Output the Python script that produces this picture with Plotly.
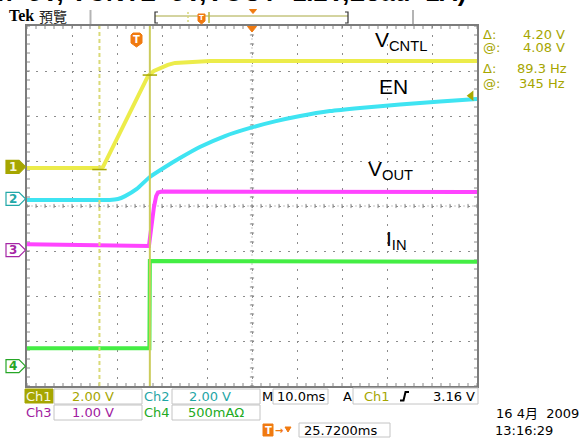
import plotly.graph_objects as go

W, H = 579, 439
GX0, GX1, GY0, GY1 = 27, 477, 26, 386      # graticule box (pixels)
TIME_DIV = 10.0                             # ms / div
X_RANGE = [-50.0, 50.0]                     # ms, trigger at centre
Y_RANGE = [-4.0, 4.0]                       # divisions

# ---- channel settings (scale per div, ground position in div) ----
CH1_SCALE, CH1_POS = 2.0, 0.87     # V/div   V_CNTL
CH2_SCALE, CH2_POS = 2.0, 0.16     # V/div   EN
CH3_SCALE, CH3_POS = 1.0, -0.98    # V/div   V_OUT
CH4_SCALE, CH4_POS = 0.5, -3.56    # A/div   I_IN

# ---- waveform samples (time in ms, value in V or A) ----
ch1_t = [-50.0, -33.6, -33.1, -23.1, -21.8, -20.4, -18.7, -17.1, -13.8, -9.3, 10.0, 30.0, 50.0]
ch1_v = [-0.05, -0.05, 0.00, 4.04, 4.26, 4.39, 4.53, 4.62, 4.66, 4.70, 4.70, 4.71, 4.71]

ch2_t = [-50.0, -31.6, -29.8, -28.2, -25.6, -22.7, -19.3, -16.0, -11.6, -6.0, -0.4, 5.1, 10.7, 17.3, 24.0, 32.9, 41.8, 50.0]
ch2_v = [-0.05, -0.05, -0.01, 0.12, 0.44, 0.97, 1.41, 1.81, 2.30, 2.79, 3.15, 3.44, 3.68, 3.90, 4.04, 4.19, 4.32, 4.44]

ch3_t = [-50.0, -35.0, -22.9, -22.7, -22.3, -21.8, -21.3, -20.9, -20.0, 50.0]
ch3_v = [0.13, 0.11, 0.09, 0.25, 0.60, 0.95, 1.20, 1.28, 1.30, 1.29]

ch4_t = [-50.0, -22.8, -22.7, 50.0]
ch4_i = [0.20, 0.20, 1.17, 1.16]

trig_level = 3.16                  # V on Ch1
cursor_t = [-33.9, -22.7]          # ms
cursor_v = [-0.12, 4.08]           # V on Ch1
cursor_at_hz = 345

# ---------------------------------------------------------------
def to_div(vals, scale, pos):
    return [v / scale + pos for v in vals]

def PX(px):
    return px / W

def PY(py):
    return 1 - py / H

fig = go.Figure()

# tick marks along border and centre lines
tx, ty = [], []
lx = 3 / 45 * TIME_DIV
ly = 3 / 45
for k in range(51):
    t = X_RANGE[0] + 2 * k
    for (a, b) in [(Y_RANGE[0], Y_RANGE[0] + ly), (Y_RANGE[1], Y_RANGE[1] - ly), (-ly * 0.7, ly * 0.7)]:
        tx += [t, t, None]
        ty += [a, b, None]
for k in range(41):
    y = Y_RANGE[0] + 0.2 * k
    for (a, b) in [(X_RANGE[0], X_RANGE[0] + lx), (X_RANGE[1], X_RANGE[1] - lx), (-lx * 0.7, lx * 0.7)]:
        tx += [a, b, None]
        ty += [y, y, None]
fig.add_trace(go.Scatter(x=tx, y=ty, mode="lines", line=dict(color="#8a8a8a", width=1),
                         hoverinfo="skip", showlegend=False))

# waveforms
fig.add_trace(go.Scatter(x=ch4_t, y=to_div(ch4_i, CH4_SCALE, CH4_POS), mode="lines",
                         line=dict(color="#44ee44", width=4), hoverinfo="skip", showlegend=False))
fig.add_trace(go.Scatter(x=ch3_t, y=to_div(ch3_v, CH3_SCALE, CH3_POS), mode="lines",
                         line=dict(color="#ff44ff", width=4), hoverinfo="skip", showlegend=False))
fig.add_trace(go.Scatter(x=ch2_t, y=to_div(ch2_v, CH2_SCALE, CH2_POS), mode="lines",
                         line=dict(color="#3fe4f2", width=4, shape="spline", smoothing=0.5),
                         hoverinfo="skip", showlegend=False))
fig.add_trace(go.Scatter(x=ch1_t, y=to_div(ch1_v, CH1_SCALE, CH1_POS), mode="lines",
                         line=dict(color="#ecec4a", width=4), hoverinfo="skip", showlegend=False))

# trigger level marker (right edge)
fig.add_trace(go.Scatter(x=[X_RANGE[1] - 1.3], y=[trig_level / CH1_SCALE + CH1_POS], mode="markers",
                         marker=dict(symbol="triangle-left", size=9, color="#a8a800"),
                         hoverinfo="skip", showlegend=False))

shapes = []
# centre dotted lines
shapes.append(dict(type="line", xref="x", yref="y", x0=X_RANGE[0], x1=X_RANGE[1], y0=0, y1=0,
                   line=dict(color="#8a8a8a", width=1, dash="1px,3.5px"), layer="below"))
shapes.append(dict(type="line", xref="x", yref="y", x0=0, x1=0, y0=Y_RANGE[0], y1=Y_RANGE[1],
                   line=dict(color="#8a8a8a", width=1, dash="1px,3.5px"), layer="below"))

# cursors
shapes.append(dict(type="line", xref="x", yref="y", x0=cursor_t[0], x1=cursor_t[0], y0=Y_RANGE[0], y1=Y_RANGE[1],
                   line=dict(color="#dada78", width=2, dash="4px,3px")))
shapes.append(dict(type="line", xref="x", yref="y", x0=cursor_t[1], x1=cursor_t[1], y0=Y_RANGE[0], y1=Y_RANGE[1],
                   line=dict(color="#cccc5c", width=2)))
for ct, cv in zip(cursor_t, cursor_v):
    yd = cv / CH1_SCALE + CH1_POS
    shapes.append(dict(type="line", xref="x", yref="y", x0=ct - 1.6, x1=ct + 1.6, y0=yd, y1=yd,
                       line=dict(color="#a8a800", width=1.5)))

# channel ground markers (left)
markers = [("1", CH1_POS, "#a6a600", "#a6a600", "#f6f6d8"),
           ("2", CH2_POS, "#22a8a8", "white", "#22a8a8"),
           ("3", CH3_POS, "#a626a6", "white", "#a626a6"),
           ("4", CH4_POS, "#26a626", "white", "#26a626")]
annotations = []
for lab, pos, edge, fill, txt in markers:
    pyc = GY0 + (Y_RANGE[1] - pos) * 45
    path = "M {a},{b} L {c},{b} L {d},{e} L {c},{f} L {a},{f} Z".format(
        a=PX(6), c=PX(19), d=PX(25.5), b=PY(pyc - 6.5), e=PY(pyc), f=PY(pyc + 6.5))
    shapes.append(dict(type="path", xref="paper", yref="paper", path=path,
                       line=dict(color=edge, width=1.2), fillcolor=fill))
    annotations.append(dict(text=lab, x=PX(13), y=PY(pyc), xref="paper", yref="paper",
                            xanchor="center", yanchor="middle", showarrow=False,
                            font=dict(size=12, color=txt, family="DejaVu Sans", weight="bold")))

def A(text, px, py, size=13, color="black", xanchor="left", family="DejaVu Sans", weight="normal"):
    annotations.append(dict(text=text, x=PX(px), y=PY(py), xref="paper", yref="paper",
                            xanchor=xanchor, yanchor="middle", showarrow=False,
                            font=dict(size=size, color=color, family=family, weight=weight)))

def R(x0, y0, x1, y1, line="#c4c4c4", fill=None, lw=1):
    d = dict(type="rect", xref="paper", yref="paper", x0=PX(x0), x1=PX(x1), y0=PY(y0), y1=PY(y1),
             line=dict(color=line, width=lw))
    if fill:
        d["fillcolor"] = fill
    shapes.append(d)

def L(x0, y0, x1, y1, color, width=1, dash=None):
    ln = dict(color=color, width=width)
    if dash:
        ln["dash"] = dash
    shapes.append(dict(type="line", xref="paper", yref="paper", x0=PX(x0), x1=PX(x1),
                       y0=PY(y0), y1=PY(y1), line=ln))

def P(pts, color, fill=None, width=1):
    path = "M " + " L ".join("{},{}".format(PX(a), PY(b)) for a, b in pts) + (" Z" if fill else "")
    d = dict(type="path", xref="paper", yref="paper", path=path, line=dict(color=color, width=width))
    if fill:
        d["fillcolor"] = fill
    shapes.append(d)

ORANGE = "#f07a10"

# title (cut at the top, as in the screenshot)
A("(Vin=5V, VCNTL=5V,VOUT=1.2V,Load=1A)", 468, -8, size=25.5, xanchor="right",
  family="Liberation Sans", weight="bold")

# header
A("Tek", 7, 16, size=16, family="Liberation Serif", weight="bold")
A("預覽", 37, 16, size=14, color="#222222", family="Noto Sans CJK TC")
L(90.5, 10, 90.5, 24, "#b4b4b4", 2)
L(413, 10, 413, 24, "#b4b4b4", 2)
L(155, 16, 348, 16, "#a8a840", 1)
P([(158, 12), (155, 12), (155, 23), (158, 23)], "#333333", width=1.2)
P([(345, 12), (348, 12), (348, 23), (345, 23)], "#333333", width=1.2)
L(188, 12, 188, 22, "#d8d878", 1.5, dash="2px,2px")
L(209, 12, 209, 23, "#b8b840", 1.5)
P([(198, 14), (205, 14), (205, 21), (201.5, 24), (198, 21)], ORANGE, fill=ORANGE)
A("T", 201.5, 18, size=7, color="white", xanchor="center", weight="bold")
P([(249.5, 9.5), (256.5, 9.5), (253, 13.5)], ORANGE, fill=ORANGE)

# orange markers on graticule
P([(247.5, 26.5), (256.5, 26.5), (252, 32)], ORANGE, fill=ORANGE)
P([(131, 35), (133, 33), (140, 33), (142, 35), (142, 43), (136.5, 47), (131, 43)], ORANGE, fill=ORANGE)
A("T", 136.5, 39.5, size=10, color="white", xanchor="center", weight="bold")

# waveform labels
A("V<sub>CNTL</sub>", 373, 41, size=21, family="Liberation Sans")
A("EN", 377, 86.5, size=21, family="Liberation Sans")
A("V<sub>OUT</sub>", 366, 170, size=21, family="Liberation Sans")
A("I<sub>IN</sub>", 384, 240, size=21, family="Liberation Sans")

# cursor readouts
OLIVE = "#a6a600"
dv = cursor_v[1] - cursor_v[0]
dhz = 1000.0 / (cursor_t[1] - cursor_t[0])
A("Δ:", 481, 34, color=OLIVE)
A("{:.2f} V".format(dv), 567, 34, color=OLIVE, xanchor="right")
A("@:", 481, 47, color=OLIVE)
A("{:.2f} V".format(cursor_v[1]), 567, 47, color=OLIVE, xanchor="right")
A("Δ:", 481, 69, color=OLIVE)
A("{:.1f} Hz".format(dhz), 569, 69, color=OLIVE, xanchor="right")
A("@:", 481, 83, color=OLIVE)
A("{} Hz".format(cursor_at_hz), 567, 83, color=OLIVE, xanchor="right")

# bottom status
TEAL, PURP, GRN = "#1fa6a6", "#a020a0", "#22aa22"
R(25, 389, 53, 403, line=OLIVE, fill=OLIVE)
A("Ch1", 39, 396, color="#f8f8e0", xanchor="center")
R(54, 389, 142, 404)
A("{:.2f} V".format(CH1_SCALE), 70, 396, color=OLIVE)
A("Ch2", 157, 396, color=TEAL, xanchor="center")
R(172, 389, 260, 404)
A("{:.2f} V".format(CH2_SCALE), 187, 396, color=TEAL)
A("M", 267, 396, xanchor="center")
R(273, 389, 328, 404)
A("{:.1f}ms".format(TIME_DIV), 301, 396, xanchor="center")
A("A", 347.5, 396, xanchor="center")
R(353, 388, 478, 404)
A("Ch1", 377, 396, color=OLIVE, xanchor="center")
P([(400, 400.5), (403.5, 400.5), (405.5, 392), (409, 392)], "black", width=2)
A("{:.2f} V".format(trig_level), 477, 396, xanchor="right")

A("Ch3", 39, 412.5, color=PURP, xanchor="center")
R(54, 405, 142, 420)
A("{:.2f} V".format(CH3_SCALE), 70, 412.5, color=PURP)
A("Ch4", 157, 412.5, color=GRN, xanchor="center")
R(172, 405, 260, 420)
A("{:d}mAΩ".format(int(CH4_SCALE * 1000)), 186, 412.5, color=GRN)

P([(263, 424), (273, 424), (273, 436), (263, 436)], ORANGE, fill=ORANGE)
A("T", 268, 430, size=10, color="white", xanchor="center", weight="bold")
A("→", 279, 430, size=10, color=ORANGE, xanchor="center", weight="bold")
P([(285, 427), (291, 427), (288, 432)], ORANGE, fill=ORANGE)
R(299, 423, 390, 437)
A("25.7200ms", 302, 430)
A("16 4月  2009", 494, 413, family="DejaVu Sans, Noto Sans CJK TC")
A("13:16:29", 493, 430)

fig.update_layout(
    width=W, height=H, margin=dict(l=0, r=0, t=0, b=0),
    paper_bgcolor="white", plot_bgcolor="white",
    showlegend=False,
    xaxis=dict(domain=[PX(GX0), PX(GX1)], range=X_RANGE, dtick=TIME_DIV, tick0=0,
               showgrid=True, gridcolor="#8c8c8c", gridwidth=1, griddash="1.5px,7.5px",
               zeroline=False, showticklabels=False, ticks="",
               showline=True, mirror=True, linecolor="#7c7c7c", linewidth=2, fixedrange=True),
    yaxis=dict(domain=[PY(GY1), PY(GY0)], range=Y_RANGE, dtick=1, tick0=0,
               showgrid=True, gridcolor="#8c8c8c", gridwidth=1, griddash="1.5px,7.5px",
               zeroline=False, showticklabels=False, ticks="",
               showline=True, mirror=True, linecolor="#7c7c7c", linewidth=2, fixedrange=True),
    shapes=shapes, annotations=annotations,
)

fig.write_html("out.html")
